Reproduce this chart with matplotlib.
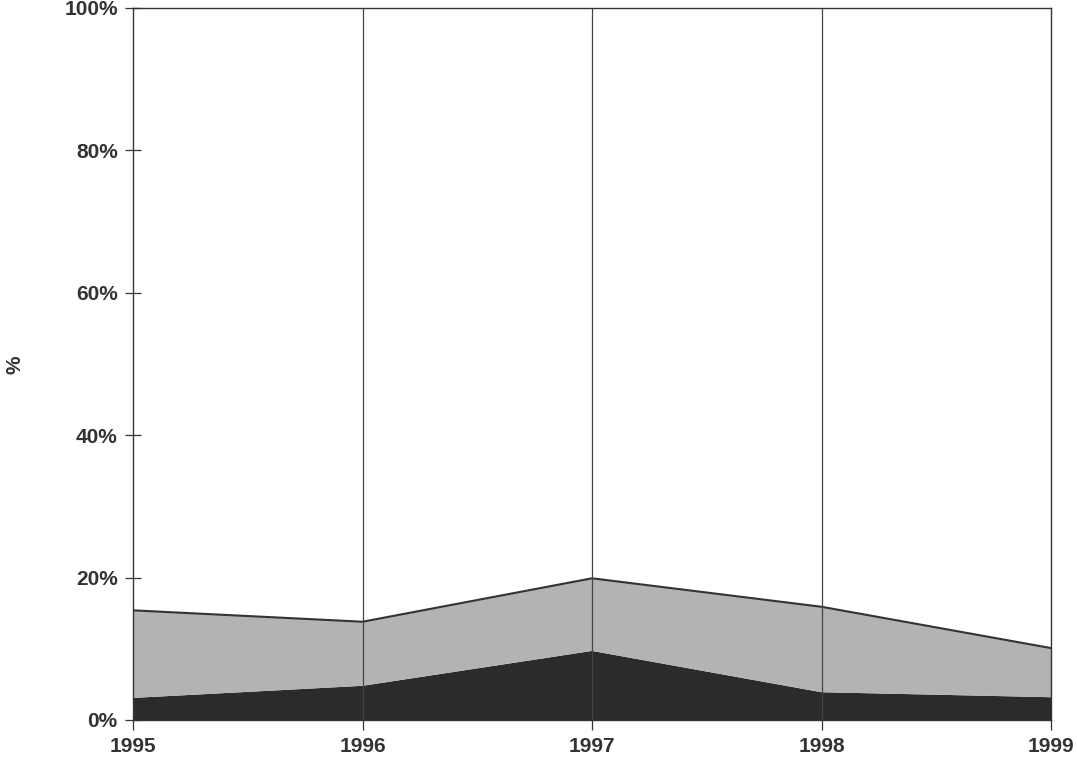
import numpy as np
import matplotlib.pyplot as plt
from matplotlib.ticker import PercentFormatter

plt.rcParams['font.family'] = ['Liberation Sans', 'DejaVu Sans']

# values (percent of total)
years = [1995, 1996, 1997, 1998, 1999]
dark = [3.1, 4.8, 9.7, 3.9, 3.2]
gray = [12.3, 9.0, 10.2, 12.0, 6.9]   # stacked on top of dark
white = [100 - d - g for d, g in zip(dark, gray)]

fig = plt.figure(figsize=(10.77, 7.64), dpi=100)
ax = fig.add_axes([0.1235, 0.0576, 0.8524, 0.932])

ax.stackplot(years, dark, gray, white,
             colors=['#2b2b2b', '#b3b3b3', 'white'], linewidth=0)
top = np.array(dark) + np.array(gray)
ax.plot(years, top, color='#333333', lw=1.5)

for y in years[1:-1]:
    ax.axvline(y, color='#444444', lw=0.9)

ax.set_xlim(1995, 1999)
ax.set_ylim(0, 100)
ax.set_xticks(years)
ax.set_yticks(range(0, 101, 20))
ax.yaxis.set_major_formatter(PercentFormatter(decimals=0))
ax.tick_params(axis='y', direction='inout', length=12, width=0.9, colors='#333333',
               labelsize=15, pad=5)
ax.tick_params(axis='x', direction='out', length=7, width=0.9, colors='#333333',
               labelsize=15, pad=5)
for lab in ax.get_xticklabels() + ax.get_yticklabels():
    lab.set_fontweight('bold')
    lab.set_zorder(5)

for s in ax.spines.values():
    s.set_color('#333333')
    s.set_linewidth(1.0)

fig.text(15 / 1077, 1 - 365 / 764, '%', fontsize=15, fontweight='bold',
         color='#333333', rotation=90, ha='center', va='center')

fig.savefig('out.png', dpi=100)
